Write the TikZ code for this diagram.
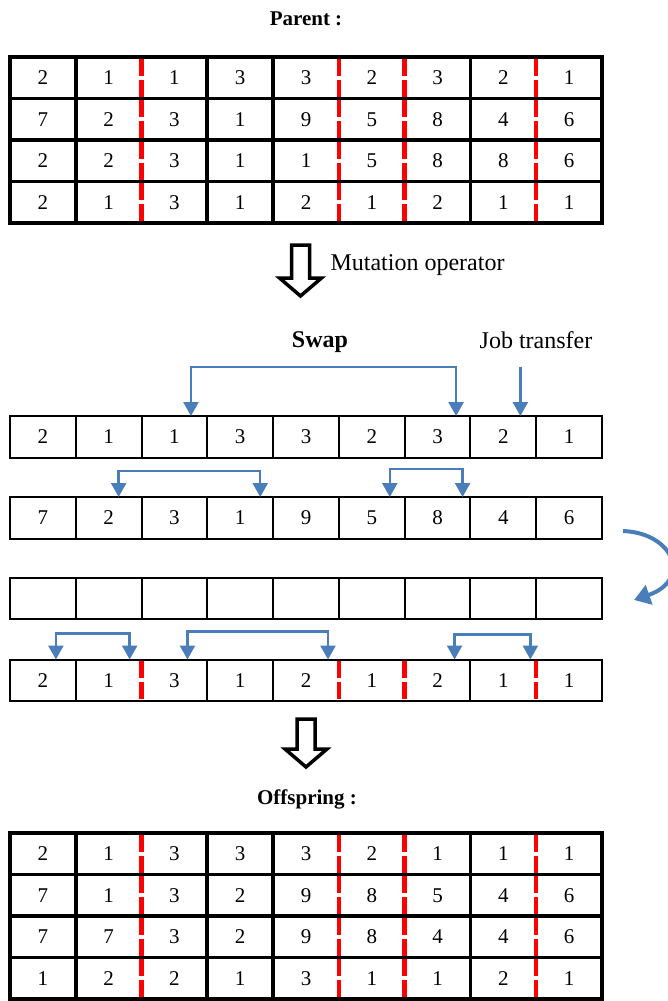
\documentclass[tikz,border=0pt]{standalone}
\usepackage{fontspec}
\setmainfont{Liberation Serif}
\usepackage{xcolor}
\definecolor{swapblue}{HTML}{4A7EBB}
\definecolor{cutred}{HTML}{FF0000}
\usetikzlibrary{arrows.meta, positioning, calc}

\begin{document}
\begin{tikzpicture}[x=1pt, y=-1pt, >={Triangle[width=15pt,length=14pt]},
  cell/.style={minimum width=65.78pt, minimum height=41.5pt, inner sep=0pt, outer sep=0pt, font=\fontsize{21}{25}\selectfont},
  thickgrid/.style={line width=3.8pt},
  thingrid/.style={line width=2pt},
  cutline/.style={cutred, line width=4.5pt, dash pattern=on 17pt off 3.75pt, dash phase=18.9pt},
  swaparrow/.style={swapblue, line width=2.5pt},
  bigarrow/.style={draw, line width=3.5pt, fill=white, line join=miter},
  lbl/.style={font=\fontsize{24}{28}\selectfont},
  title/.style={font=\fontsize{21}{25}\selectfont\bfseries}]

  \useasboundingbox (0,0) rectangle (668,1001);

  % Parent chromosomes
  \node[title] (parent) at (306,19) {Parent :};
  \foreach \row [count=\r] in {{2,1,1,3,3,2,3,2,1},{7,2,3,1,9,5,8,4,6},{2,2,3,1,1,5,8,8,6},{2,1,3,1,2,1,2,1,1}}
    \foreach \v [count=\c] in \row
      \node[cell] (p-\r-\c) at ({10+(\c-0.5)*65.78},{57+(\r-0.5)*41.5}) {\v};
  \draw[thickgrid] (p-1-1.north west) rectangle (p-4-9.south east);
  \foreach \r in {1,2,3} \draw[thickgrid] (p-\r-1.south west) -- (p-\r-9.south east);
  \foreach \c in {1,3,4,7} \draw[thickgrid] (p-1-\c.north east) -- (p-4-\c.south east);
  \foreach \c in {2,5,6,8} \draw[cutline] (p-1-\c.north east) -- (p-4-\c.south east);

  % Mutation operator
  \draw[bigarrow] (291.5,245) -- (309.5,245) -- (309.5,278) -- (321.5,278) -- (300.5,296) -- (279.5,278) -- (291.5,278) -- cycle;
  \node[lbl, anchor=west] (mut) at (327,265) {Mutation operator};

  % Single rows
  \foreach \v [count=\c] in {2,1,1,3,3,2,3,2,1}
    \node[cell] (a-\c) at ({10+(\c-0.5)*65.78},436.75) {\v};
  \foreach \v [count=\c] in {7,2,3,1,9,5,8,4,6}
    \node[cell] (b-\c) at ({10+(\c-0.5)*65.78},517.75) {\v};
  \foreach \c in {1,...,9}
    \node[cell] (c-\c) at ({10+(\c-0.5)*65.78},598.25) {};
  \foreach \v [count=\c] in {2,1,3,1,2,1,2,1,1}
    \node[cell] (d-\c) at ({10+(\c-0.5)*65.78},680.25) {\v};
  \foreach \n in {a,b,c} {
    \draw[thingrid] (\n-1.north west) rectangle (\n-9.south east);
    \foreach \c in {1,...,8} \draw[thingrid] (\n-\c.north east) -- (\n-\c.south east);
  }
  \draw[thingrid] (d-1.north west) rectangle (d-9.south east);
  \foreach \c in {1,3,4,7} \draw[thingrid] (d-\c.north east) -- (d-\c.south east);
  \foreach \c in {2,5,6,8} \draw[cutline] (d-\c.north east) -- (d-\c.south east);

  % Swap and job transfer
  \node[lbl] (swap) at (320,342) {\bfseries Swap};
  \node[lbl] (job) at (536,340) {Job transfer};
  \coordinate (a-sw1) at ([xshift=16.5pt]a-3.north);
  \coordinate (a-sw2) at ([xshift=18.5pt]a-7.north);
  \coordinate (a-jt) at ([xshift=17pt]a-8.north);
  \coordinate (jt-top) at ([yshift=49pt]a-jt);
  \draw[swaparrow, <->] (a-sw1) -- ++(0,-49) -| (a-sw2);
  \draw[swaparrow, ->] (jt-top) -- (a-jt);

  \coordinate (b-sw1) at ([xshift=10pt]b-2.north);
  \coordinate (b-sw2) at ([xshift=20pt]b-4.north);
  \coordinate (b-sw3) at ([xshift=18pt]b-6.north);
  \coordinate (b-sw4) at ([xshift=25pt]b-7.north);
  \draw[swaparrow, <->] (b-sw1) -- ++(0,-26) -| (b-sw2);
  \draw[swaparrow, <->] (b-sw3) -- ++(0,-28) -| (b-sw4);

  \coordinate (d-sw1) at ([xshift=13pt]d-1.north);
  \coordinate (d-sw2) at ([xshift=21pt]d-2.north);
  \coordinate (d-sw3) at ([xshift=13pt]d-3.north);
  \coordinate (d-sw4) at ([xshift=22pt]d-5.north);
  \coordinate (d-sw5) at ([xshift=17pt]d-7.north);
  \coordinate (d-sw6) at ([xshift=27pt]d-8.north);
  \draw[swaparrow, <->] (d-sw1) -- ++(0,-26) -| (d-sw2);
  \draw[swaparrow, <->] (d-sw3) -- ++(0,-28) -| (d-sw4);
  \draw[swaparrow, <->] (d-sw5) -- ++(0,-25) -| (d-sw6);

  % Curved arrow at the right
  \coordinate (cv-start) at (623,531);
  \coordinate (cv-end) at (634,600);
  \draw[swapblue, line width=4pt, -{Triangle[width=20pt,length=16pt]}] (cv-start) .. controls (674,533) and (692,580) .. (cv-end);

  % Offspring chromosomes
  \draw[bigarrow] (297,719) -- (315,719) -- (315,749) -- (327,749) -- (306,767) -- (285,749) -- (297,749) -- cycle;
  \node[title] (offspring) at (307,799) {Offspring :};
  \foreach \row [count=\r] in {{2,1,3,3,3,2,1,1,1},{7,1,3,2,9,8,5,4,6},{7,7,3,2,9,8,4,4,6},{1,2,2,1,3,1,1,2,1}}
    \foreach \v [count=\c] in \row
      \node[cell] (o-\r-\c) at ({10+(\c-0.5)*65.78},{833+(\r-0.5)*41.5}) {\v};
  \draw[thickgrid] (o-1-1.north west) rectangle (o-4-9.south east);
  \foreach \r in {1,2,3} \draw[thickgrid] (o-\r-1.south west) -- (o-\r-9.south east);
  \foreach \c in {1,3,4,7} \draw[thickgrid] (o-1-\c.north east) -- (o-4-\c.south east);
  \foreach \c in {2,5,6,8} \draw[cutline] (o-1-\c.north east) -- (o-4-\c.south east);

\end{tikzpicture}
\end{document}
